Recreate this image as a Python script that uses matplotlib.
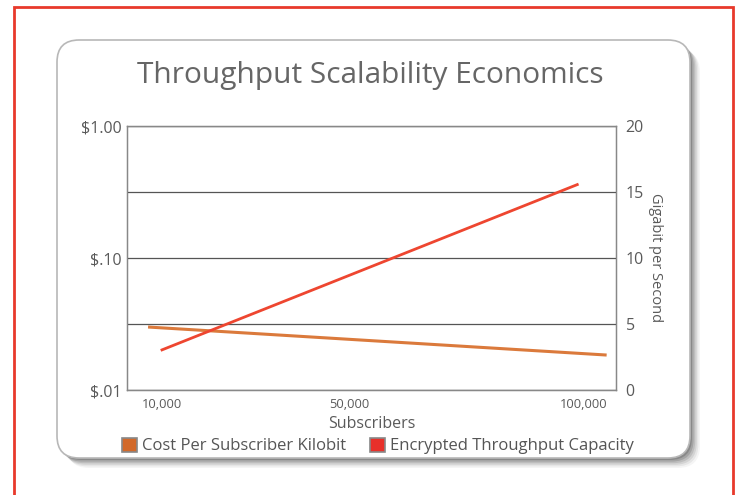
import matplotlib
matplotlib.use("Agg")
import matplotlib.pyplot as plt
from matplotlib.patches import FancyBboxPatch, Rectangle, Patch

# ---- data ----
subscribers = [7000, 105000]
cost_per_kbit = [0.030, 0.0184]
sub_thru = [9700, 99000]
throughput_gbps = [3.0, 15.6]
x_ticks = [10000, 50000, 100000]
x_tick_labels = ["10,000", "50,000", "100,000"]
left_ticks = [0.01, 0.1, 1.0]
left_tick_labels = ["$.01", "$.10", "$1.00"]
right_ticks = [0, 5, 10, 15, 20]
series_names = ["Cost Per Subscriber Kilobit", "Encrypted Throughput Capacity"]

W, H = 737, 495
plt.rcParams['font.family'] = ['Open Sans', 'DejaVu Sans']
fig = plt.figure(figsize=(W / 100, H / 100), dpi=100)
fig.patch.set_facecolor("white")

def fx(px):
    return px / W

def fy(py):
    return 1 - py / H

# outer red frame
fig.patches.append(Rectangle((fx(14), fy(520)), fx(733) - fx(14), fy(7) - fy(520),
                             transform=fig.transFigure, fill=False, edgecolor="#e8392b",
                             linewidth=2, zorder=0))

# card shadow
cx0, cy0, cx1, cy1 = 57, 40, 690, 458
for i, a in enumerate([0.04, 0.06, 0.08, 0.10, 0.13, 0.16]):
    off = 10 - i * 1.6
    fig.patches.append(FancyBboxPatch((fx(cx0 + off), fy(cy1 + off)), fx(cx1 - cx0), fy(cy0) - fy(cy1),
                                      boxstyle="round,pad=0,rounding_size=0.03",
                                      transform=fig.transFigure, facecolor="#000000",
                                      edgecolor="none", alpha=a, zorder=1,
                                      mutation_aspect=W / H))
fig.patches.append(FancyBboxPatch((fx(cx0), fy(cy1)), fx(cx1 - cx0), fy(cy0) - fy(cy1),
                                  boxstyle="round,pad=0,rounding_size=0.03",
                                  transform=fig.transFigure, facecolor="white",
                                  edgecolor="#b8b8b8", linewidth=1.2, zorder=2,
                                  mutation_aspect=W / H))

ax = fig.add_axes([fx(127), fy(390), fx(616) - fx(127), fy(126) - fy(390)])
ax.set_zorder(3)
ax.patch.set_alpha(0)
ax.set_yscale("log")
ax.set_ylim(0.01, 1.0)
ax.set_xlim(2500, 107000)
ax.set_yticks(left_ticks)
ax.set_yticklabels(left_tick_labels)
ax.minorticks_off()
ax.set_xticks(x_ticks)
ax.set_xticklabels(x_tick_labels)
ax.tick_params(axis="y", length=0, pad=4, labelsize=11.5, labelcolor="#5a5a5a")
ax.tick_params(axis="x", length=0, pad=6, labelsize=9.3, labelcolor="#5a5a5a")
for s in ax.spines.values():
    s.set_color("#888888")
    s.set_linewidth(1)
ax.set_xlabel("Subscribers", fontsize=11.5, color="#5a5a5a", labelpad=3)

ax2 = ax.twinx()
ax2.set_ylim(0, 20)
ax2.set_yticks(right_ticks)
ax2.tick_params(axis="y", length=0, pad=7, labelsize=11.5, labelcolor="#5a5a5a")
ax2.grid(True, axis="y", color="#555555", linewidth=0.9)
for s in ax2.spines.values():
    s.set_color("#888888")
ax2.set_ylabel("Gigabit per Second", fontsize=10.5, color="#5a5a5a", rotation=270, labelpad=14)

ax.plot(subscribers, cost_per_kbit, color="#db7a3c", linewidth=2.2, solid_capstyle="butt", zorder=5)
ax2.plot(sub_thru, throughput_gbps, color="#ee4630", linewidth=2.0, solid_capstyle="butt", zorder=5)

fig.text(fx(370), fy(75), "Throughput Scalability Economics", ha="center", va="center",
         fontsize=21.5, color="#666666", zorder=10)

handles = [Patch(facecolor="#d2692a", edgecolor="#888888", linewidth=1.2),
           Patch(facecolor="#e8302a", edgecolor="#888888", linewidth=1.2)]
leg = fig.legend(handles, series_names, loc="center", bbox_to_anchor=(fx(378), fy(446)),
                 ncol=2, frameon=False, fontsize=12, handlelength=0.9, handleheight=0.9,
                 handletextpad=0.3, columnspacing=1.4, labelcolor="#555555")
leg.set_zorder(10)

fig.savefig("out.png", dpi=100)
